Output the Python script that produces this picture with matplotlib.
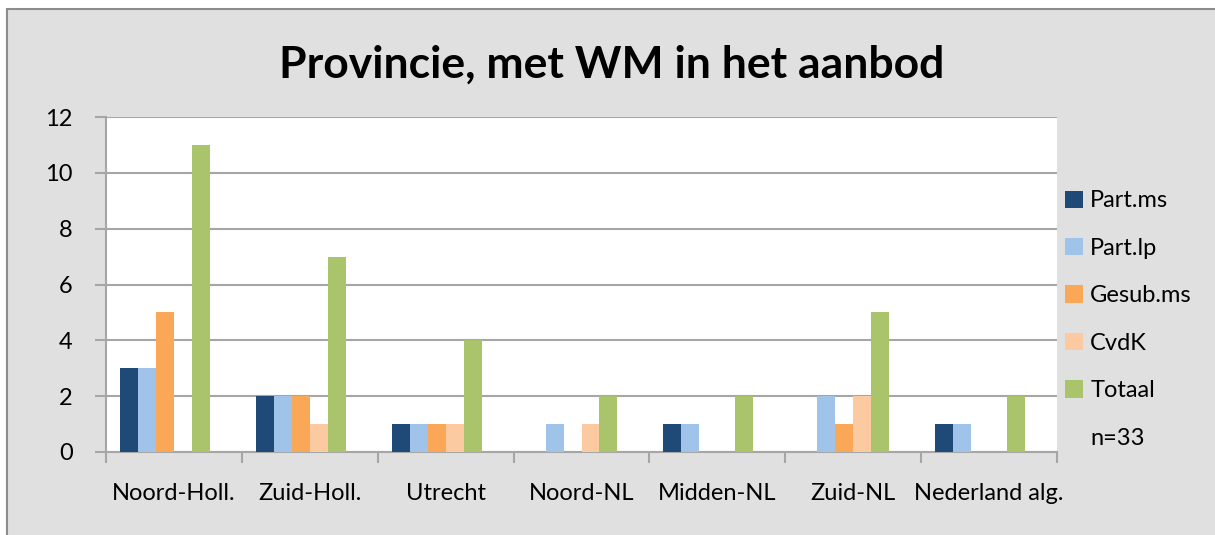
import matplotlib
matplotlib.use("Agg")
import matplotlib.pyplot as plt
from matplotlib.patches import Rectangle, Patch
import numpy as np

categories = ["Noord-Holl.", "Zuid-Holl.", "Utrecht", "Noord-NL", "Midden-NL", "Zuid-NL", "Nederland alg."]
part_ms = [3, 2, 1, 0, 1, 0, 1]
part_lp = [3, 2, 1, 1, 1, 2, 1]
gesub_ms = [5, 2, 1, 0, 0, 1, 0]
cvdk = [0, 1, 1, 1, 0, 2, 0]
totaal = [11, 7, 4, 2, 2, 5, 2]
series_names = ["Part.ms", "Part.lp", "Gesub.ms", "CvdK", "Totaal", "n=33"]
series_values = [part_ms, part_lp, gesub_ms, cvdk, totaal, [0] * 7]
colors = ["#1F4A77", "#A0C3EA", "#FAA857", "#FCCAA0", "#AAC46B", "none"]
yticks = [0, 2, 4, 6, 8, 10, 12]
title = "Provincie, met WM in het aanbod"

plt.rcParams['font.family'] = ['Lato', 'DejaVu Sans']

W, H = 1215, 535
fig = plt.figure(figsize=(W / 100, H / 100), dpi=100)
fig.patch.set_facecolor("white")
fig.patches.append(Rectangle((7 / W, -0.1), 1.2, (H - 9) / H + 0.1, transform=fig.transFigure,
                             facecolor="#E0E0E0", edgecolor="#8C8C8C", linewidth=1.5, zorder=-10))

ax = fig.add_axes([106 / W, 1 - 452 / H, (1057 - 106) / W, (452 - 117) / H])
ax.set_zorder(5)
ax.set_facecolor("white")

n = len(categories)
x = np.arange(n) + 0.5
w = 18 / 136
for j, (vals, c) in enumerate(zip(series_values, colors)):
    if c == "none":
        continue
    ax.bar(x + (j - 2.5) * w, vals, width=w, color=c, linewidth=0, zorder=3)

fs = 17
ax.set_xlim(0, n)
ax.set_ylim(0, 12)
ax.set_yticks(yticks)
ax.set_yticklabels([str(v) for v in yticks], fontsize=fs)
ax.yaxis.grid(True, color="#A6A6A6", linewidth=1.5, zorder=1)
ax.set_axisbelow(True)
ax.set_xticks(np.arange(n + 1))
ax.set_xticklabels([])
ax.set_xticks(x, minor=True)
ax.set_xticklabels(categories, minor=True, fontsize=fs)
ax.tick_params(axis="x", which="minor", length=0, pad=22)
ax.tick_params(axis="x", which="major", length=8, width=1.5, color="#A6A6A6")
ax.tick_params(axis="y", length=8, width=1.5, color="#A6A6A6", pad=16)
for s in ["top", "right"]:
    ax.spines[s].set_visible(False)
for s in ["left", "bottom"]:
    ax.spines[s].set_color("#A6A6A6")
    ax.spines[s].set_linewidth(1.5)

fig.text(612 / W, 1 - 65 / H, title, ha="center", va="center", fontsize=32, fontweight="bold")

handles = [Patch(facecolor=c, edgecolor="none") for c in colors]
fig.legend(handles, series_names, loc="upper left", bbox_to_anchor=(1056 / W, 1 - 181 / H),
           frameon=False, fontsize=fs, handlelength=0.75, handleheight=0.75,
           handletextpad=0.3, labelspacing=1.12, borderaxespad=0)

fig.savefig("out.png", dpi=100)
